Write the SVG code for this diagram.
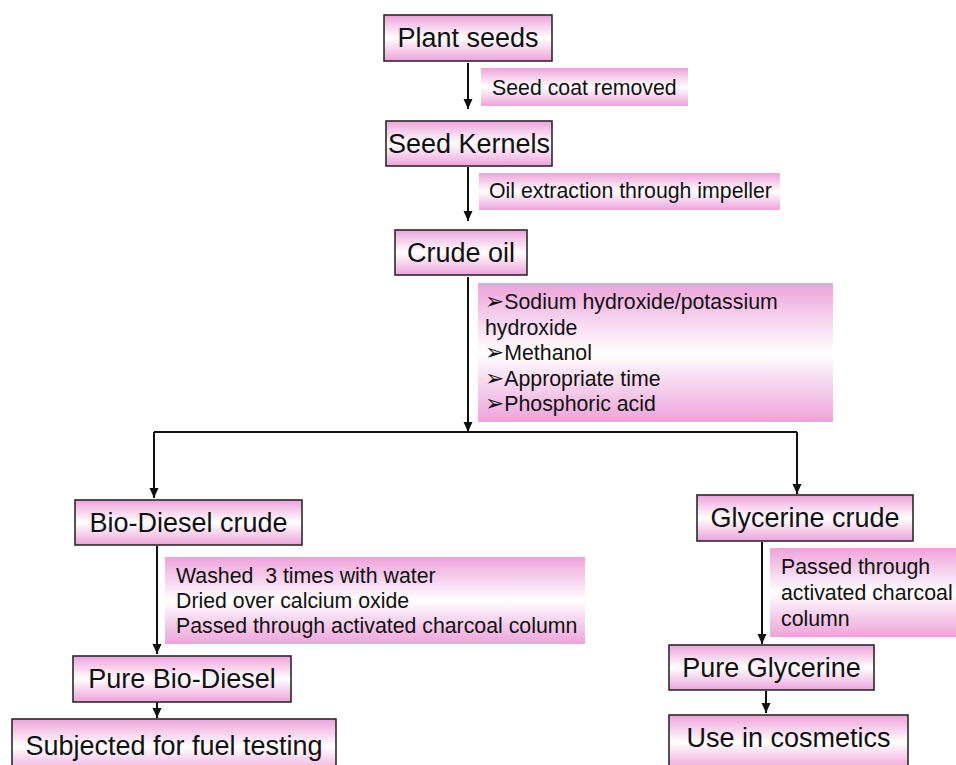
<svg xmlns="http://www.w3.org/2000/svg" width="956" height="765" viewBox="0 0 956 765">
<defs>
<linearGradient id="pk" x1="0" y1="0" x2="0" y2="1">
<stop offset="0" stop-color="#EDA3DA"/>
<stop offset="0.5" stop-color="#FFFFFF"/>
<stop offset="1" stop-color="#EDA3DA"/>
</linearGradient>
<marker id="ah" markerUnits="userSpaceOnUse" markerWidth="10" markerHeight="10" viewBox="0 0 10 10" refX="10" refY="5" orient="auto">
<path d="M0,0.5 L10,5 L0,9.5 Z" fill="#111"/>
</marker>
</defs>
<style>
.node rect{fill:url(#pk);stroke:#2a2a2a;stroke-width:1.6}
.node text{font-family:"Liberation Sans",Arial,sans-serif;font-size:27px;fill:#111;text-anchor:middle}
.lbl rect{fill:url(#pk);stroke:none}
.lbl text{font-family:"Liberation Sans",Arial,"DejaVu Sans",sans-serif;font-size:21.3px;fill:#111}
.lbl .b{font-family:"DejaVu Sans",sans-serif;font-size:23px;font-weight:bold}
.edges path{fill:none;stroke:#111;stroke-width:2}
</style>
<rect width="956" height="765" fill="#fff"/>
<g class="edges">
<path d="M468,63 V109" marker-end="url(#ah)"/>
<path d="M468,167 V221" marker-end="url(#ah)"/>
<path d="M468,277 V432" marker-end="url(#ah)"/>
<path d="M154,432 H797"/>
<path d="M154,432 V498" marker-end="url(#ah)"/>
<path d="M797,432 V494" marker-end="url(#ah)"/>
<path d="M157,546 V654" marker-end="url(#ah)"/>
<path d="M157,702 V718" marker-end="url(#ah)"/>
<path d="M762,542 V644" marker-end="url(#ah)"/>
<path d="M766,691 V713" marker-end="url(#ah)"/>
</g>
<g id="lbl-seedcoat" class="lbl"><rect x="481" y="68" width="207" height="38"/><text x="492" y="95">Seed coat removed</text></g>
<g id="lbl-oil" class="lbl"><rect x="479" y="173" width="301" height="37"/><text x="489" y="198">Oil extraction through impeller</text></g>
<g id="lbl-chem" class="lbl"><rect x="478" y="283" width="355" height="139"/>
<text x="485" y="309"><tspan class="b">➢</tspan>Sodium hydroxide/potassium</text>
<text x="485" y="335">hydroxide</text>
<text x="485" y="360"><tspan class="b">➢</tspan>Methanol</text>
<text x="485" y="386"><tspan class="b">➢</tspan>Appropriate time</text>
<text x="485" y="411"><tspan class="b">➢</tspan>Phosphoric acid</text></g>
<g id="lbl-wash" class="lbl"><rect x="165" y="557" width="420" height="87"/>
<text x="176" y="583" xml:space="preserve">Washed  3 times with water</text>
<text x="176" y="608">Dried over calcium oxide</text>
<text x="176" y="633">Passed through activated charcoal column</text></g>
<g id="lbl-glyc" class="lbl"><rect x="770" y="548" width="186" height="89"/>
<text x="781" y="574">Passed through</text>
<text x="781" y="600">activated charcoal</text>
<text x="781" y="626">column</text></g>
<g id="n-plant" class="node"><rect x="384" y="15" width="168" height="46"/><text x="468" y="47">Plant seeds</text></g>
<g id="n-kernels" class="node"><rect x="386" y="121" width="166" height="45"/><text x="469" y="153">Seed Kernels</text></g>
<g id="n-crude" class="node"><rect x="395" y="230" width="132" height="45"/><text x="461" y="262">Crude oil</text></g>
<g id="n-biocrude" class="node"><rect x="75" y="500" width="227" height="45"/><text x="188.5" y="532">Bio-Diesel crude</text></g>
<g id="n-glycrude" class="node"><rect x="697" y="495" width="216" height="46"/><text x="805" y="527">Glycerine crude</text></g>
<g id="n-purebio" class="node"><rect x="73" y="656" width="218" height="46"/><text x="182" y="688">Pure Bio-Diesel</text></g>
<g id="n-fuel" class="node"><rect x="12" y="719" width="324" height="55"/><text x="174" y="755">Subjected for fuel testing</text></g>
<g id="n-pureglyc" class="node"><rect x="669" y="645" width="205" height="45"/><text x="771.5" y="677">Pure Glycerine</text></g>
<g id="n-cosm" class="node"><rect x="669" y="715" width="239" height="55"/><text x="788.5" y="747">Use in cosmetics</text></g>
</svg>
